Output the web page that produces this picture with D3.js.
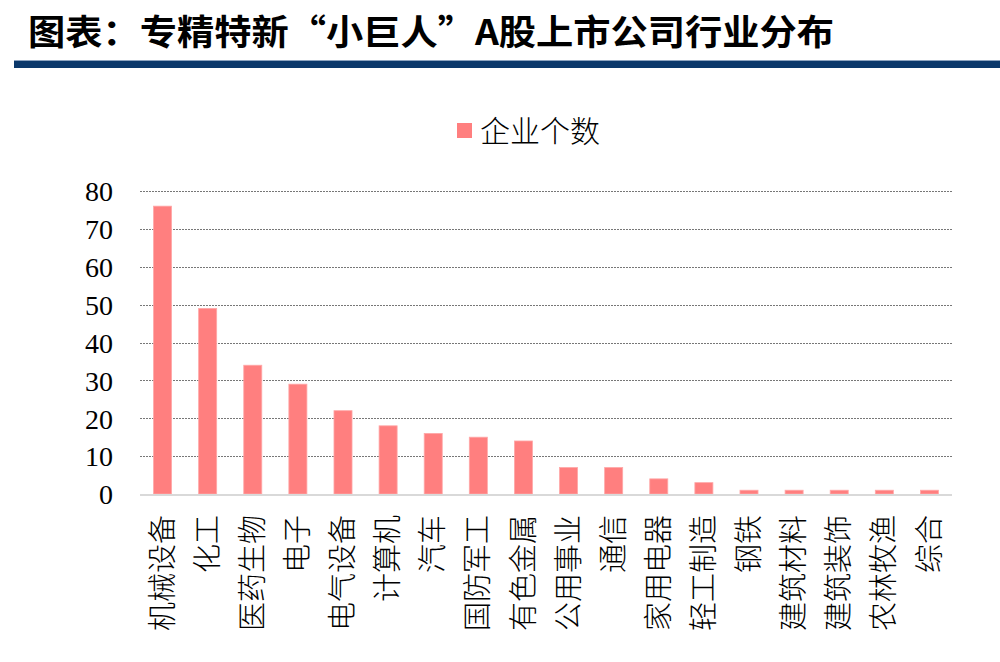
<!DOCTYPE html>
<html><head><meta charset="utf-8">
<script src="https://cdn.jsdelivr.net/npm/d3@7"></script>
<style>html,body{margin:0;padding:0;background:#fff;}</style>
</head><body>
<svg id="chart" width="1000" height="662"></svg>
<script>
const categories = ["机械设备","化工","医药生物","电子","电气设备","计算机","汽车","国防军工","有色金属","公用事业","通信","家用电器","轻工制造","钢铁","建筑材料","建筑装饰","农林牧渔","综合"];
const values = [76,49,34,29,22,18,16,15,14,7,7,4,3,1,1,1,1,1];
const yTicks = [0,10,20,30,40,50,60,70,80];
const titleText = "图表：专精特新“小巨人”A股上市公司行业分布";
const seriesName = "企业个数";

const svg = d3.select("#chart");
const cjk = "'Noto Sans CJK SC', 'Noto Sans', sans-serif";
const serif = "'Liberation Serif', 'Times New Roman', serif";

// Title
svg.append("text").attr("x", 28).attr("y", 45)
  .attr("font-family", cjk).attr("font-weight", "bold").attr("font-size", 35)
  .attr("textLength", 806).attr("lengthAdjust", "spacingAndGlyphs")
  .attr("fill", "#000").text(titleText);
// Blue rule
svg.append("rect").attr("x", 14).attr("y", 61).attr("width", 986).attr("height", 7).attr("fill", "#0b386b");
svg.append("rect").attr("x", 14).attr("y", 60).attr("width", 986).attr("height", 1).attr("fill", "#8ea4c0");

const x = d3.scaleBand().domain(categories).range([140, 952]).paddingInner(0.6).paddingOuter(0.3);
const y = d3.scaleLinear().domain([0, 80]).range([494, 191]);

// Gridlines
svg.append("g").selectAll("line").data(yTicks.filter(d => d > 0)).join("line")
  .attr("x1", 140).attr("x2", 952)
  .attr("y1", d => Math.round(y(d)) + 0.5).attr("y2", d => Math.round(y(d)) + 0.5)
  .attr("stroke", "#777").attr("stroke-width", 1).attr("stroke-dasharray", "2,1");

// Bars
svg.append("g").selectAll("rect").data(values).join("rect")
  .attr("x", (d, i) => x(categories[i]))
  .attr("width", x.bandwidth())
  .attr("y", d => y(d))
  .attr("height", d => y(0) - y(d))
  .attr("fill", "#ff7f7f").attr("stroke", "#ffa8a8").attr("stroke-width", 0.8);

// Baseline
svg.append("line").attr("x1", 140).attr("x2", 952).attr("y1", y(0) + 1).attr("y2", y(0) + 1)
  .attr("stroke", "#d9d9d9").attr("stroke-width", 2);

// Y axis labels
const yAxis = d3.axisLeft(y).tickValues(yTicks).tickSize(0).tickPadding(0);
const yg = svg.append("g").attr("transform", "translate(113,0)").call(yAxis);
yg.select(".domain").remove();
yg.selectAll("text").attr("font-family", serif).attr("font-size", 28).attr("fill", "#000").attr("dy", "0.35em");

// X labels (rotated)
const xAxis = d3.axisBottom(x).tickSize(0);
const xg = svg.append("g").attr("transform", "translate(0,0)").call(xAxis);
xg.select(".domain").remove();
xg.selectAll(".tick text")
  .attr("font-family", cjk).attr("font-size", 29).attr("font-weight", 300).attr("fill", "#000")
  .attr("text-anchor", "end")
  .attr("y", 0).attr("dy", "0.35em")
  .attr("transform", "translate(0,515) rotate(-90)");

// Legend
svg.append("rect").attr("x", 457).attr("y", 123).attr("width", 15).attr("height", 15).attr("fill", "#ff7f7f");
svg.append("text").attr("x", 480).attr("y", 131).attr("dy", "0.35em")
  .attr("font-family", cjk).attr("font-size", 30).attr("font-weight", 300).attr("fill", "#000").text(seriesName);
</script>
</body></html>
